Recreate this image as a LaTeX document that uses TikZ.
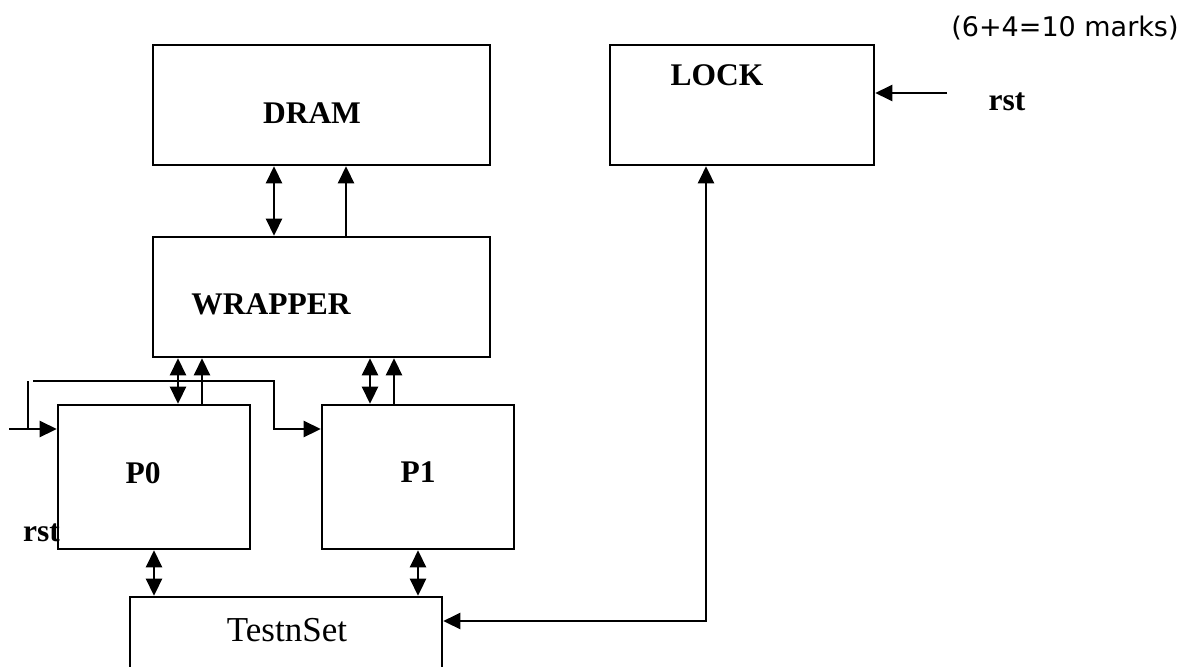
\documentclass[tikz,border=0pt]{standalone}
\usepackage{fontspec}
\setmainfont{Liberation Serif}
\newfontfamily\marksfont{DejaVu Sans}
\usetikzlibrary{arrows.meta}
\begin{document}
\begin{tikzpicture}[
    x = 1pt, y = -1pt,
    blk/.style = {draw, line width = 2.6pt, inner sep = 0pt},
    lbl/.style = {font = \fontsize{31.5}{36}\selectfont\bfseries, inner sep = 0pt},
    wire/.style = {line width = 2.6pt},
    > = {Triangle[length = 17pt, width = 16pt]}
]
    \useasboundingbox (0,0) rectangle (1190,666);
    \clip (0,0) rectangle (1190,666);

    \node[lbl] (rstP) at (41.5,533) {rst};

    \node[blk, minimum width = 337, minimum height = 120] (dram) at (321.5,105) {};
    \node[blk, minimum width = 264, minimum height = 120] (lock) at (742,105) {};
    \node[blk, minimum width = 337, minimum height = 120] (wrapper) at (321.5,297) {};
    \node[blk, minimum width = 192, minimum height = 144] (p0) at (154,477) {};
    \node[blk, minimum width = 192, minimum height = 144] (p1) at (418,477) {};
    \node[blk, minimum width = 312, minimum height = 160] (tns) at (286,677) {};

    \node[lbl] (dramL) at (312,113) {DRAM};
    \node[lbl] (lockL) at (717,75) {LOCK};
    \node[lbl] (wrapperL) at (271,304) {WRAPPER};
    \node[lbl] (p0L) at (143,473) {P0};
    \node[lbl] (p1L) at (418,472) {P1};
    \node[font = \fontsize{35}{40}\selectfont, inner sep = 0pt] (tnsL) at (287,630) {TestnSet};
    \node[lbl] (rstL) at (1007,102) {rst};
    \node[font = \marksfont\fontsize{27}{31}\selectfont, inner sep = 0pt] (marks) at (1065,28) {(6+4=10 marks)};

    \draw[wire, <->] ([xshift = -47.5pt]wrapper.north) -- ([xshift = -47.5pt]dram.south);
    \draw[wire, ->] ([xshift = 24.5pt]wrapper.north) -- ([xshift = 24.5pt]dram.south);

    \draw[wire, <->] ([xshift = 24pt]p0.north) -- ([xshift = 24pt]p0.north |- wrapper.south);
    \draw[wire, ->] ([xshift = 48pt]p0.north) -- ([xshift = 48pt]p0.north |- wrapper.south);
    \draw[wire, <->] ([xshift = -48pt]p1.north) -- ([xshift = -48pt]p1.north |- wrapper.south);
    \draw[wire, ->] ([xshift = -24pt]p1.north) -- ([xshift = -24pt]p1.north |- wrapper.south);

    \draw[wire, <->] (p0.south) -- (p0.south |- tns.north);
    \draw[wire, <->] (p1.south) -- (p1.south |- tns.north);

    \draw[wire, <->] ([xshift = -36pt]lock.south) |- ([yshift = 56pt]tns.east);

    \coordinate (rin) at (947,93);
    \draw[wire, ->] (rin) -- (rin -| lock.east);

    \coordinate (pin) at (9,429);
    \coordinate (tap) at (28,429);
    \coordinate (tapup) at (28,381);
    \coordinate (bus) at (33,381);
    \draw[wire, ->] (pin) -- (pin -| p0.west);
    \draw[wire] (tap) -- (tapup);
    \draw[wire, ->] (bus) -- ++(241,0) |- (pin -| p1.west);
\end{tikzpicture}
\end{document}
